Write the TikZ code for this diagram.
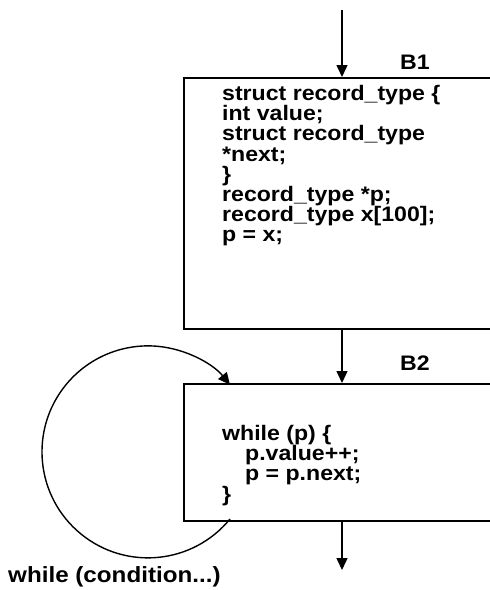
\documentclass[tikz,border=0pt]{standalone}
\usepackage{fontspec}
\setmainfont{Liberation Sans}[FakeStretch=1.1]
\usetikzlibrary{arrows.meta}
\begin{document}
\begin{tikzpicture}[x=1pt,y=-1pt,
  blk/.style={draw, line width=1.5pt, minimum width=330pt, inner sep=0pt, anchor=north west},
  code/.style={font=\bfseries\fontsize{21}{20.2}\selectfont, align=left, inner sep=0pt, anchor=north west},
  lbl/.style={font=\bfseries\fontsize{21}{24}\selectfont, inner sep=0pt},
  flow/.style={line width=1.4pt, -{Triangle[length=12pt,width=11pt]}}]
  \useasboundingbox (0,0) rectangle (490,590);
  \clip (0,0) rectangle (490,590);

  % basic blocks (they run off the right edge)
  \node[blk, minimum height=251pt] (b1) at (183,77) {};
  \node[blk, minimum height=137pt] (b2) at (183,383) {};

  \node[lbl] (b1name) at (415,62) {B1};
  \node[lbl] (b2name) at (415,363) {B2};

  \node[code] (b1code) at (222,85) {struct record\_type \{\\
    int value;\\
    struct record\_type\\
    *next;\\
    \}\\
    record\_type *p;\\
    record\_type x[100];\\
    p = x;};

  \node[code] (b2code) at (222,425) {while (p) \{\\
    \hspace*{23pt}p.value++;\\
    \hspace*{23pt}p = p.next;\\
    \}};

  % control flow
  \coordinate (entry) at (342,10);
  \coordinate (exit) at (342,570);
  \draw[flow] (entry) -- (entry |- b1.north);
  \draw[flow] (b1.south -| entry) -- (entry |- b2.north);
  \draw[flow] (b2.south -| entry) -- (exit);

  % back edge of the loop
  \coordinate (loopfrom) at (230,519);
  \draw[flow] (loopfrom) arc[start angle=39.3, end angle=320.7, radius=106];
  \node[lbl, anchor=west, font=\bfseries\fontsize{22}{24}\selectfont] (cond) at (8,577) {while (condition...)};
\end{tikzpicture}
\end{document}
